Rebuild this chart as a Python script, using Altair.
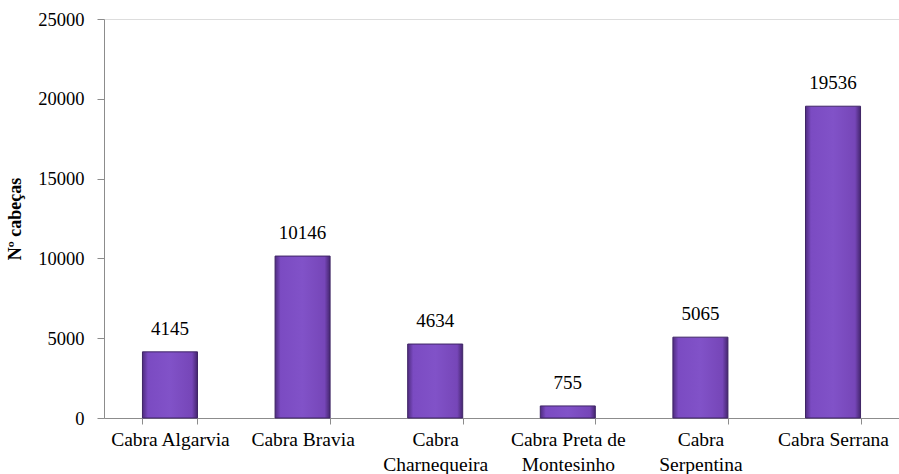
import altair as alt
import pandas as pd

categories = ["Cabra Algarvia", "Cabra Bravia", "Cabra Charnequeira", "Cabra Preta de Montesinho", "Cabra Serpentina", "Cabra Serrana"]
labels = [["Cabra Algarvia"], ["Cabra Bravia"], ["Cabra", "Charnequeira"], ["Cabra Preta de", "Montesinho"], ["Cabra", "Serpentina"], ["Cabra Serrana"]]
values = [4145, 10146, 4634, 755, 5065, 19536]

df = pd.DataFrame({"cat": categories, "val": values})

label_expr = "{" + ", ".join(
    f"'{c}': [{', '.join(repr(p) for p in l)}]" for c, l in zip(categories, labels)
) + "}[datum.value]"

FONT = "Liberation Serif"
GRAY = "#8c8c8c"

x = alt.X("cat:N", sort=categories, title=None,
          scale=alt.Scale(paddingInner=0.585, paddingOuter=0.29),
          axis=alt.Axis(labelExpr=label_expr, labelAngle=0, labelFontSize=19.5,
                        labelColor="#000", labelPadding=6, labelLineHeight=25,
                        domainColor=GRAY, tickColor=GRAY, tickSize=6, tickBand="extent",
                        labelBaseline="top"))
y = alt.Y("val:Q", title="Nº cabeças",
          scale=alt.Scale(domain=[0, 25000], nice=False),
          axis=alt.Axis(values=[0, 5000, 10000, 15000, 20000, 25000], grid=False, format="d",
                        labelFontSize=18.5, labelColor="#000", labelPadding=13,
                        domainColor=GRAY, tickColor=GRAY, tickSize=7,
                        titleFontSize=18, titleFontWeight="bold",
                        titleColor="#000", titlePadding=13))

grad = alt.Gradient(gradient="linear", x1=0, x2=1, y1=0, y2=0, stops=[
    alt.GradientStop(offset=0, color="#4f2c80"),
    alt.GradientStop(offset=0.1, color="#7b4bc2"),
    alt.GradientStop(offset=0.5, color="#8152c8"),
    alt.GradientStop(offset=0.9, color="#7646b8"),
    alt.GradientStop(offset=1, color="#45266f"),
])

bars = alt.Chart(df).mark_bar(fill=grad, stroke="#3f2566", strokeWidth=1).encode(x=x, y=y)
text = alt.Chart(df).mark_text(font=FONT, fontSize=19, color="#000", dy=-17, baseline="alphabetic").encode(
    x=alt.X("cat:N", sort=categories), y="val:Q", text="val:Q")

chart = (bars + text).properties(
    width=795, height=399,
    autosize=alt.AutoSizeParams(type="none"),
    padding={"left": 104, "top": 19, "right": 0, "bottom": 56},
).configure_view(stroke=None).configure(background="white", font=FONT)

chart.save("out.html", embed_options={"renderer": "svg", "actions": False})
